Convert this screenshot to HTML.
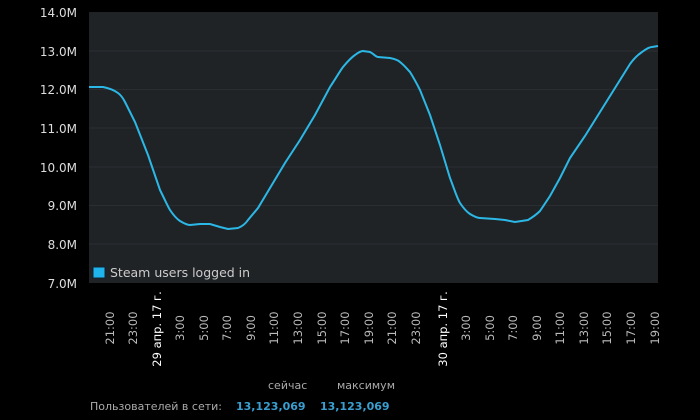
<!DOCTYPE html>
<html><head><meta charset="utf-8"><style>
body{margin:0;background:#000;width:700px;height:420px;overflow:hidden;font-family:"DejaVu Sans","Liberation Sans",sans-serif;}
</style></head><body>
<svg width="700" height="420" xmlns="http://www.w3.org/2000/svg" style="position:absolute;left:0;top:0">
<rect x="89" y="12" width="569" height="271" fill="#202326"/>
<g stroke="#2a2d31" stroke-width="1">
<line x1="89" x2="658" y1="51" y2="51"/><line x1="89" x2="658" y1="89.5" y2="89.5"/>
<line x1="89" x2="658" y1="128" y2="128"/><line x1="89" x2="658" y1="167" y2="167"/>
<line x1="89" x2="658" y1="205.5" y2="205.5"/><line x1="89" x2="658" y1="244" y2="244"/>
</g>
<g fill="#ddd" font-size="12" text-anchor="end">
<text x="77" y="17">14.0M</text><text x="77" y="56">13.0M</text><text x="77" y="94">12.0M</text>
<text x="77" y="133">11.0M</text><text x="77" y="172">10.0M</text><text x="77" y="210">9.0M</text>
<text x="77" y="249">8.0M</text><text x="77" y="288">7.0M</text>
</g>
<path fill="none" stroke="#2cb8e6" stroke-width="2" d="M89,87 L103,87 C108,88 114,90 118,93 C122,96 125,102 125,102 L135,122 L148,155 L160,190 C165,200 168,207 170,210 C174,216 177,219 180,221 C185,224 188,225 190,225 L200,224 L210,224 L220,227 L228,229 L238,228 C243,226 246,223 248,220 L258,208 L270,188 L285,163 L300,140 L315,115 L330,87 C336,78 340,71 343,67 C348,61 352,57 355,55 C359,52 361,51 363,51 L370,52 C374,54 376,57 378,57 L390,58 C395,59 398,60 400,62 C405,66 407,69 410,72 C415,80 418,86 420,90 L430,115 L440,145 L450,178 C455,191 457,198 460,203 C464,209 467,212 470,214 C475,217 478,218 480,218 L495,219 L505,220 L515,222 L528,220 C533,217 537,214 540,211 L550,196 L560,178 L570,158 L585,136 L600,112 L615,88 L630,64 C635,57 639,54 642,52 C646,49 650,47 652,47 L658,46"/>
<rect x="93" y="267" width="12" height="11" fill="#1fb5ec" stroke="#123" stroke-width="1"/>
<text x="110" y="277" fill="#ccc" font-size="12.5">Steam users logged in</text>
<g font-size="11.5" fill="#bbb" text-anchor="middle">
<text transform="translate(114,328) rotate(-90)">21:00</text>
<text transform="translate(137,328) rotate(-90)">23:00</text>
<text transform="translate(161,329) rotate(-90)" fill="#fff">29 апр. 17 г.</text>
<text transform="translate(184,328) rotate(-90)">3:00</text>
<text transform="translate(208,328) rotate(-90)">5:00</text>
<text transform="translate(231,328) rotate(-90)">7:00</text>
<text transform="translate(255,328) rotate(-90)">9:00</text>
<text transform="translate(278,328) rotate(-90)">11:00</text>
<text transform="translate(302,328) rotate(-90)">13:00</text>
<text transform="translate(326,328) rotate(-90)">15:00</text>
<text transform="translate(349,328) rotate(-90)">17:00</text>
<text transform="translate(373,328) rotate(-90)">19:00</text>
<text transform="translate(396,328) rotate(-90)">21:00</text>
<text transform="translate(420,328) rotate(-90)">23:00</text>
<text transform="translate(447,329) rotate(-90)" fill="#fff">30 апр. 17 г.</text>
<text transform="translate(470,328) rotate(-90)">3:00</text>
<text transform="translate(494,328) rotate(-90)">5:00</text>
<text transform="translate(517,328) rotate(-90)">7:00</text>
<text transform="translate(541,328) rotate(-90)">9:00</text>
<text transform="translate(564,328) rotate(-90)">11:00</text>
<text transform="translate(588,328) rotate(-90)">13:00</text>
<text transform="translate(611,328) rotate(-90)">15:00</text>
<text transform="translate(635,328) rotate(-90)">17:00</text>
<text transform="translate(659,328) rotate(-90)">19:00</text>
</g>
<g font-size="11">
<text x="268" y="389" fill="#aaa">сейчас</text>
<text x="337" y="389" fill="#aaa">максимум</text>
<text x="90" y="410" fill="#aaa">Пользователей в сети:</text>
<text x="236" y="410" fill="#3a9fd0" font-weight="bold">13,123,069</text>
<text x="320" y="410" fill="#3a9fd0" font-weight="bold">13,123,069</text>
</g>
</svg>
</body></html>
